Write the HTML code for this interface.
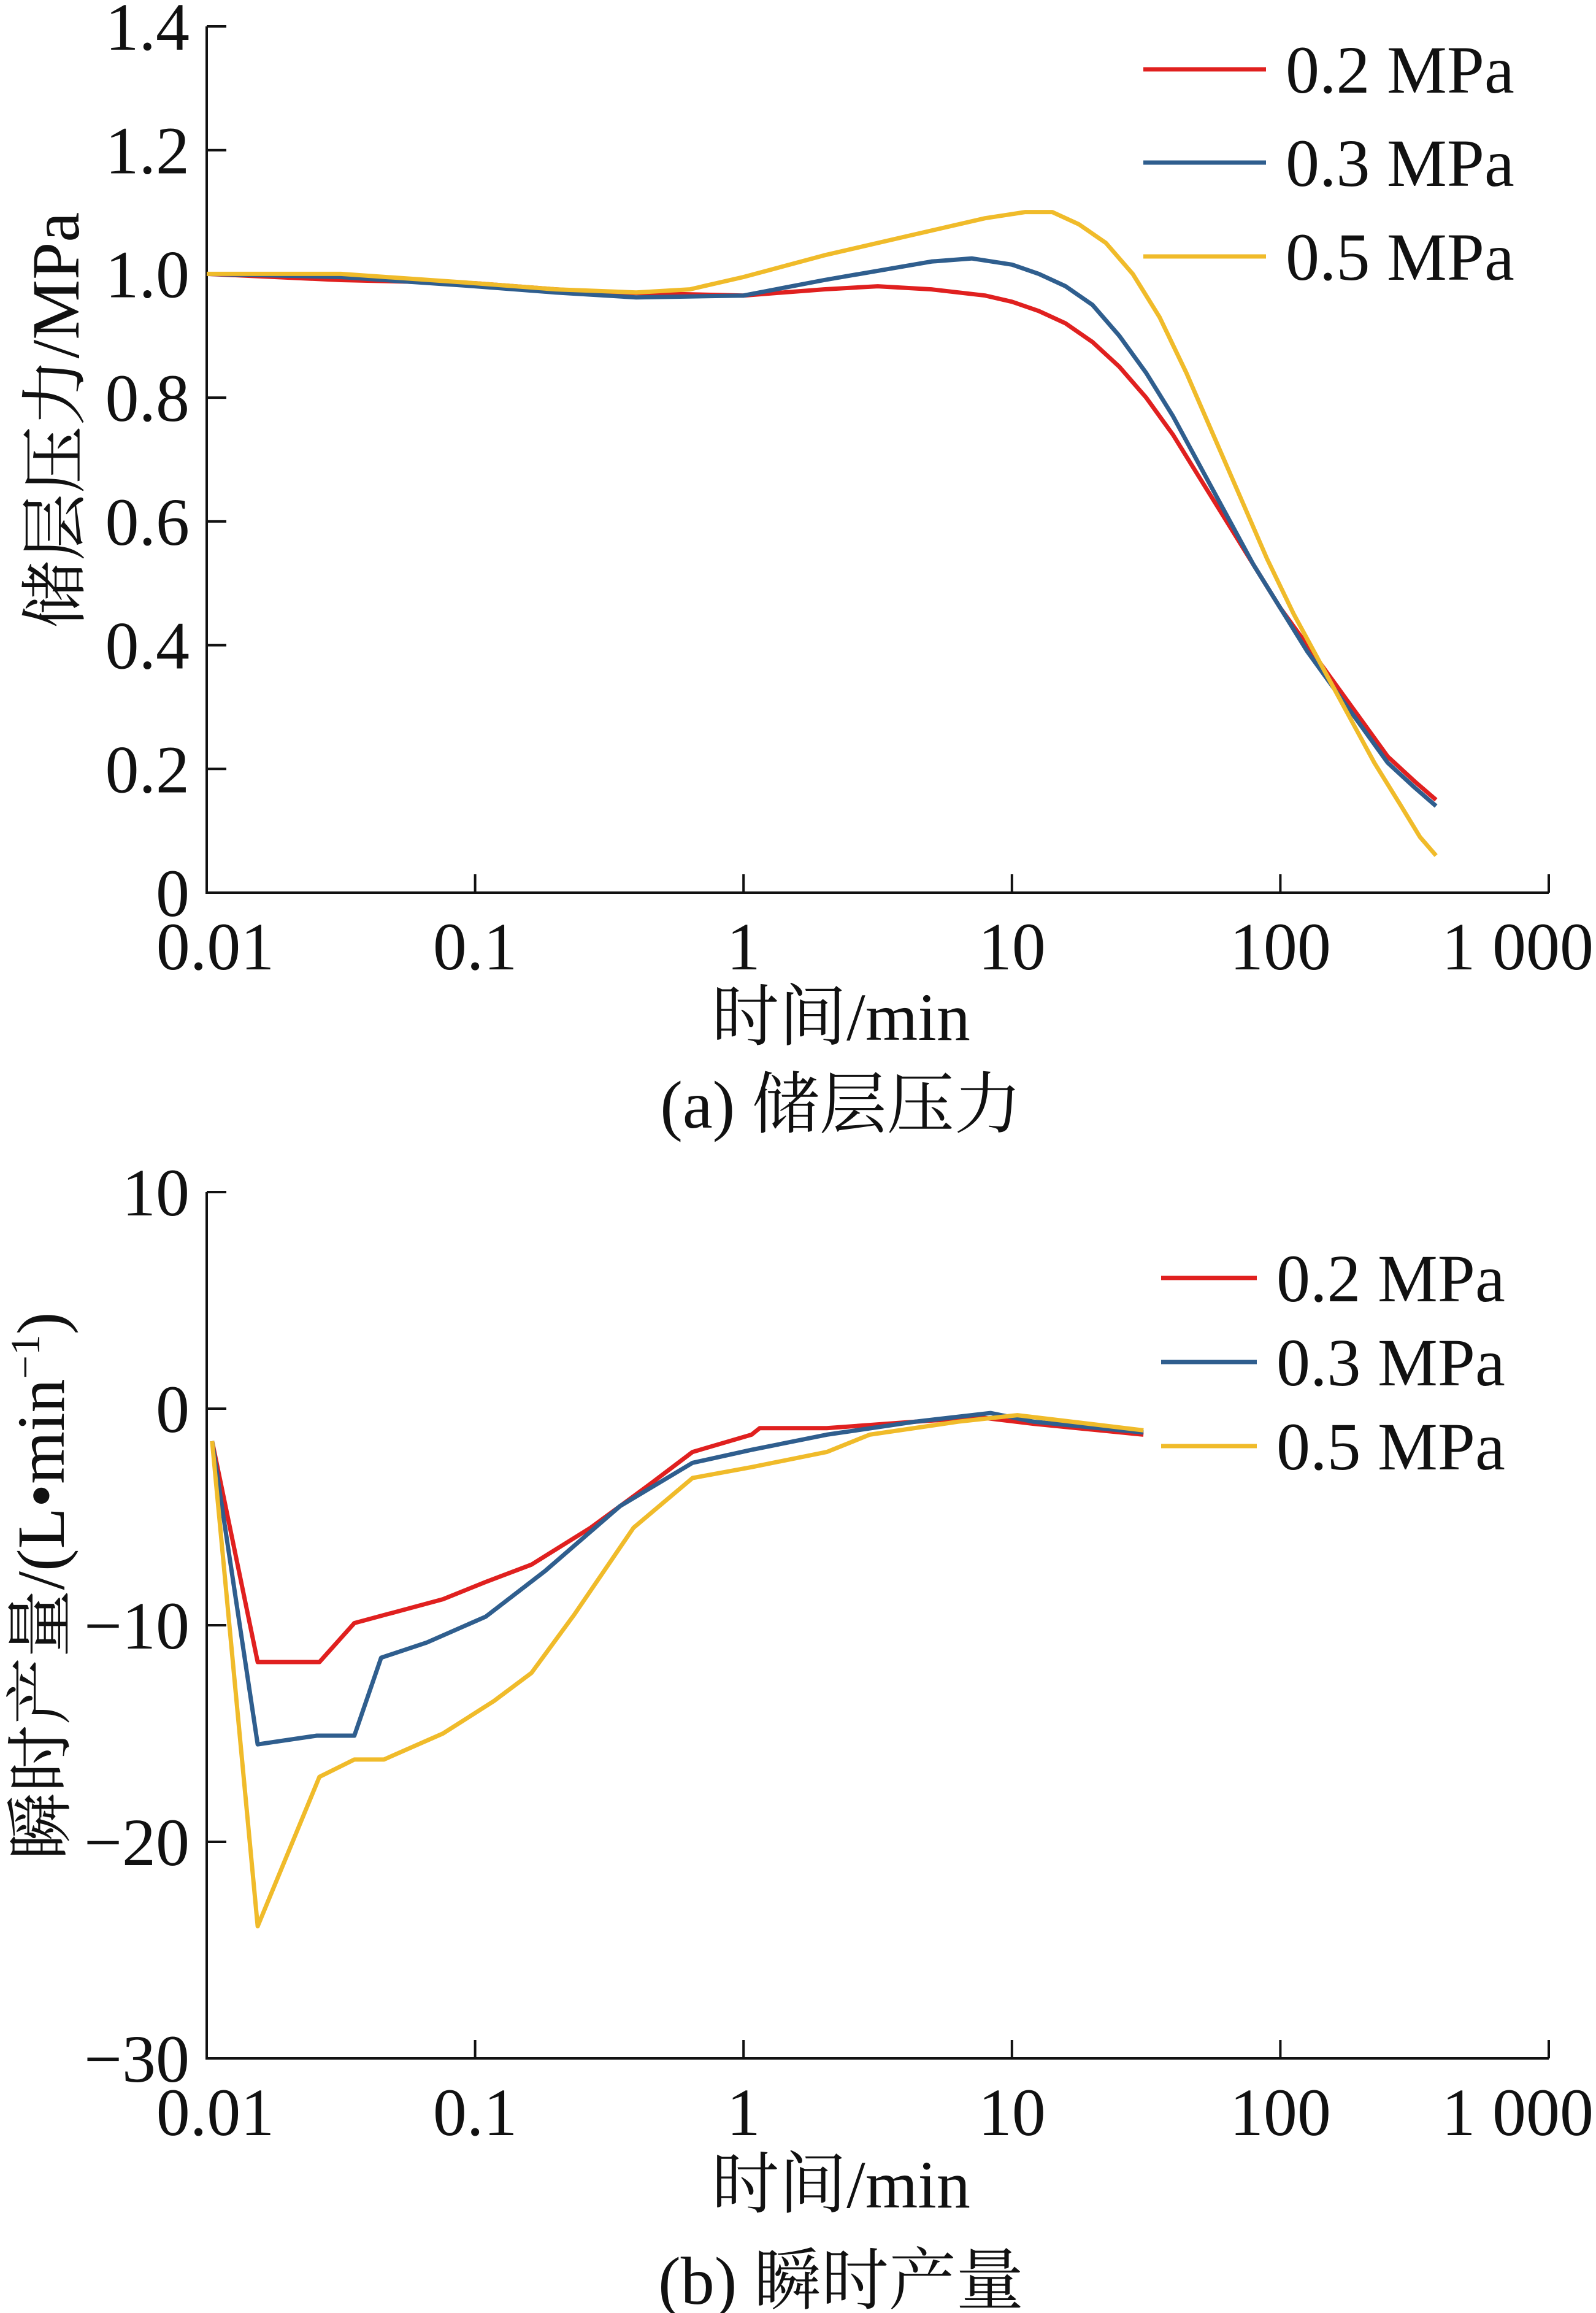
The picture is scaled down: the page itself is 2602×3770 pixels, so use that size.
<!DOCTYPE html>
<html><head><meta charset="utf-8">
<style>
html,body{margin:0;padding:0;background:#fff}
svg{display:block}
text{font-family:"Liberation Serif","Noto Serif CJK SC",serif;fill:#111}
</style></head>
<body>
<svg id="c" width="2602" height="3770" viewBox="0 0 2602 3770" xmlns="http://www.w3.org/2000/svg"></svg>
<script>
const xTickVals=[-2,-1,0,1,2,3];
const xTickLabels=["0.01","0.1","1","10","100","1 000"];
const seriesNames=["0.2 MPa","0.3 MPa","0.5 MPa"];
const colors=["#e0201f","#2f5e8e","#f0bb2a"];
const aTicks=[0,0.2,0.4,0.6,0.8,1.0,1.2,1.4];
const aTickLabels=["0","0.2","0.4","0.6","0.8","1.0","1.2","1.4"];
const aRed=[[-2,1.0],[-1.5,0.99],[-1,0.985],[-0.7,0.975],[-0.5,0.97],[0,0.965],[0.3,0.975],[0.5,0.98],[0.7,0.975],[0.9,0.965],[1,0.955],[1.1,0.94],[1.2,0.92],[1.3,0.89],[1.4,0.85],[1.5,0.8],[1.6,0.74],[1.7,0.67],[1.8,0.6],[1.9,0.53],[2,0.46],[2.1,0.4],[2.2,0.34],[2.3,0.28],[2.4,0.22],[2.5,0.18],[2.58,0.15]];
const aBlue=[[-2,1.0],[-1.5,0.995],[-1,0.98],[-0.7,0.97],[-0.4,0.962],[0,0.965],[0.3,0.99],[0.5,1.005],[0.7,1.02],[0.85,1.025],[1,1.015],[1.1,1.0],[1.2,0.98],[1.3,0.95],[1.4,0.9],[1.5,0.84],[1.6,0.77],[1.7,0.69],[1.8,0.61],[1.9,0.53],[2,0.46],[2.1,0.39],[2.2,0.33],[2.3,0.27],[2.4,0.21],[2.5,0.17],[2.58,0.14]];
const aYellow=[[-2,1.0],[-1.5,1.0],[-1,0.985],[-0.7,0.975],[-0.4,0.97],[-0.2,0.975],[0,0.995],[0.3,1.03],[0.6,1.06],[0.9,1.09],[1.05,1.10],[1.15,1.1],[1.25,1.08],[1.35,1.05],[1.45,1.0],[1.55,0.93],[1.65,0.84],[1.75,0.74],[1.85,0.64],[1.95,0.54],[2.05,0.45],[2.15,0.37],[2.25,0.29],[2.35,0.21],[2.45,0.14],[2.52,0.09],[2.58,0.06]];
const bTicks=[-30,-20,-10,0,10];
const bTickLabels=["−30","−20","−10","0","10"];
const bRed=[[-1.98,-1.5],[-1.81,-11.7],[-1.58,-11.7],[-1.45,-9.9],[-1.12,-8.8],[-0.96,-8.0],[-0.79,-7.2],[-0.57,-5.5],[-0.35,-3.5],[-0.19,-2.0],[0.03,-1.2],[0.06,-0.9],[0.31,-0.9],[0.64,-0.6],[0.88,-0.4],[1.08,-0.7],[1.49,-1.2]];
const bBlue=[[-1.98,-1.5],[-1.81,-15.5],[-1.59,-15.1],[-1.45,-15.1],[-1.35,-11.5],[-1.18,-10.8],[-0.96,-9.6],[-0.74,-7.5],[-0.46,-4.5],[-0.19,-2.5],[0.03,-1.9],[0.31,-1.2],[0.64,-0.6],[0.92,-0.2],[1.08,-0.6],[1.49,-1.1]];
const bYellow=[[-1.98,-1.5],[-1.81,-23.9],[-1.58,-17.0],[-1.45,-16.2],[-1.34,-16.2],[-1.12,-15.0],[-0.93,-13.5],[-0.79,-12.2],[-0.63,-9.5],[-0.41,-5.5],[-0.19,-3.2],[0.03,-2.7],[0.31,-2.0],[0.47,-1.2],[0.80,-0.6],[1.02,-0.3],[1.49,-1.0]];

const svg=document.getElementById('c');const NS="http://www.w3.org/2000/svg";
const FS=110;
function el(t,a,p){const e=document.createElementNS(NS,t);for(const k in a)e.setAttribute(k,a[k]);(p||svg).appendChild(e);return e;}
function txt(s,a,p){const e=el('text',a,p);e.textContent=s;return e;}

function panel(cfg){
  const g=el('g',{});
  
  
  const L=337,R=2525;
  const xs=v=>L+(v+2)/5*(R-L);
  const ys=v=>cfg.y0+(v-cfg.ymin)/(cfg.ymax-cfg.ymin)*(cfg.y1-cfg.y0);
  const ax=el('path',{d:`M${L},${cfg.y1}V${cfg.y0}H${R}`,fill:'none',stroke:'#111','stroke-width':4},g);
  
  
  xTickVals.forEach((v,i)=>{
    const x=xs(v);
    el('line',{x1:x,x2:x,y1:cfg.y0,y2:cfg.y0-30,stroke:'#111','stroke-width':4},g);
    const last=i===xTickVals.length-1;
    const t=txt(xTickLabels[i],{x:last?2598:x+(i===0?14:0),y:cfg.y0+125,'font-size':FS,'text-anchor':last?'end':'middle'},g);
    
    
  });
  cfg.ticks.forEach((v,i)=>{
    const y=ys(v);
    el('line',{x1:L,x2:L+32,y1:y,y2:y,stroke:'#111','stroke-width':4},g);
    const t=txt(cfg.tickLabels[i],{x:L-28,y:y+38,'font-size':FS,'text-anchor':'end'},g);
    
    
  });
  cfg.series.forEach((s,i)=>{
    const d=s.map((p,j)=>(j?'L':'M')+xs(p[0]).toFixed(1)+','+ys(p[1]).toFixed(1)).join('');
    const p=el('path',{d:d,fill:'none',stroke:colors[i],'stroke-width':7,'stroke-linejoin':'round'},g);
    
    
  });
  cfg.legendY.forEach((y,i)=>{
    el('line',{x1:cfg.lx1,x2:cfg.lx2,y1:y,y2:y,stroke:colors[i],'stroke-width':7},g);
    const t=txt(seriesNames[i],{x:cfg.lx2+32,y:y+38,'font-size':FS},g);
    
    
  });
  const xt=txt('时间/min',{x:1371,y:cfg.xtY,'font-size':FS,'text-anchor':'middle'},g);
  
  
  const ct=txt(cfg.caption,{x:1371,y:cfg.capY,'font-size':FS,'text-anchor':'middle'},g);
  
  
  const yt=el('text',{x:0,y:0,'font-size':FS,'text-anchor':'middle',transform:`translate(${cfg.ytX},${cfg.ytY}) rotate(-90)`},g);
  yt.innerHTML=cfg.ytitle;
  
  
}
panel({name:'panel-a-reservoir-pressure',y0:1455,y1:43,ymin:0,ymax:1.4,ticks:aTicks,tickLabels:aTickLabels,
  series:[aRed,aBlue,aYellow],legendY:[113,265,418],lx1:1864,lx2:2064,xtY:1695,capY:1838,caption:'(a) 储层压力',
  ytX:128,ytY:685,ytitle:'储层压力/MPa'});
panel({name:'panel-b-instant-production',y0:3355,y1:1943,ymin:-30,ymax:10,ticks:bTicks,tickLabels:bTickLabels,
  series:[bRed,bBlue,bYellow],legendY:[2083,2220,2357],lx1:1893,lx2:2049,xtY:3598,capY:3755,caption:'(b) 瞬时产量',
  ytX:104,ytY:2585,ytitle:'瞬时产量/(L•min<tspan dy="-40" font-size="68">−1</tspan><tspan dy="40">)</tspan>'});
</script>
</body></html>
